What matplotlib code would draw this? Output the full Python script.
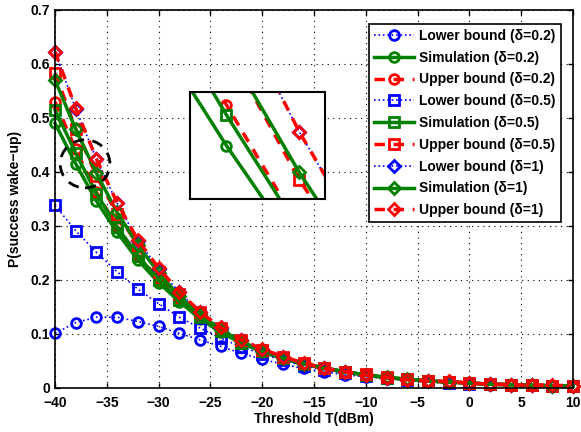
import numpy as np
import matplotlib
matplotlib.use("Agg")
from matplotlib import pyplot as plt
from matplotlib.patches import Ellipse

plt.rcParams['font.family'] = ['Liberation Sans', 'DejaVu Sans']
plt.rcParams['font.weight'] = 'bold'

T = np.arange(-40, 11, 2)

lower_02 = [.101, .121, .131, .131, .123, .114, .101, .089, .077, .064, .053, .044, .036,
            .030, .024, .021, .017, .014, .011, .009, .008, .006, .005, .005, .004, .003]
sim_02 = [.490, .415, .346, .288, .237, .195, .160, .128, .103, .083, .067, .054, .044,
          .036, .029, .024, .019, .016, .013, .011, .009, .007, .006, .005, .004, .004]
upper_02 = [.530, .4416, .362, .298, .245, .202, .166, .134, .108, .087, .070, .056, .046,
            .037, .030, .025, .020, .016, .013, .011, .009, .007, .006, .005, .004, .004]
lower_05 = [.338, .291, .251, .215, .183, .156, .131, .111, .092, .076, .063, .051, .041,
            .034, .028, .023, .019, .015, .012, .010, .008, .007, .006, .005, .004, .004]
sim_05 = [.515, .435, .360, .298, .245, .200, .163, .131, .105, .084, .068, .055, .045,
          .036, .030, .024, .019, .016, .013, .011, .009, .007, .006, .005, .004, .004]
upper_05 = [.583, .480, .3926, .322, .265, .215, .174, .140, .111, .088, .071, .057, .046,
            .037, .030, .025, .020, .016, .013, .011, .009, .007, .006, .005, .004, .004]
lower_1 = [.622, .517, .424, .342, .273, .221, .177, .140, .111, .088, .071, .057, .045,
           .036, .029, .024, .019, .015, .013, .011, .009, .007, .006, .005, .004, .004]
sim_1 = [.570, .479, .3975, .325, .265, .213, .170, .136, .108, .086, .069, .056, .045,
         .037, .030, .024, .020, .016, .013, .011, .009, .007, .006, .005, .004, .004]
upper_1 = [.623, .518, .424, .343, .274, .222, .178, .141, .112, .089, .072, .058, .046,
           .036, .030, .024, .019, .015, .013, .012, .009, .007, .006, .005, .005, .004]

labels = ['Lower bound (δ=0.2)', 'Simulation (δ=0.2)', 'Upper bound (δ=0.2)',
          'Lower bound (δ=0.5)', 'Simulation (δ=0.5)', 'Upper bound (δ=0.5)',
          'Lower bound (δ=1)', 'Simulation (δ=1)', 'Upper bound (δ=1)']
series = [lower_02, sim_02, upper_02, lower_05, sim_05, upper_05, lower_1, sim_1, upper_1]
markers = ['o', 'o', 'o', 's', 's', 's', 'D', 'D', 'D']

green = (0, 0.5, 0)
styles = [dict(color='b', ls=':', lw=1.2),
          dict(color=green, ls='-', lw=2.5),
          dict(color='r', ls=(0, (3, 2.5)), lw=2.5)]


def draw(ax, ms, clip=True):
    hs = []
    for i, y in enumerate(series):
        st = styles[i % 3]
        m = markers[i]
        h, = ax.plot(T, y, marker=m, markersize=ms if m != 'D' else ms - 1,
                     mfc='none', mew=2, clip_on=clip, **st)
        hs.append(h)
    return hs


fig = plt.figure(figsize=(5.81, 4.32), dpi=100)
ax = fig.add_axes([0.0947, 0.102, 0.8915, 0.875])
hs = draw(ax, 7, clip=False)
ax.set_xlim(-40, 10)
ax.set_ylim(0, 0.7)
ax.set_xticks(np.arange(-40, 11, 5))
ax.set_yticks(np.arange(0, 0.71, 0.1))
ax.set_yticklabels(['0', '0.1', '0.2', '0.3', '0.4', '0.5', '0.6', '0.7'])
ax.grid(True, ls=(0, (1, 4)), color='k', lw=0.8)
ax.tick_params(direction='in', top=True, right=True, labelsize=10, width=1)
ax.tick_params(axis='x', pad=6)
for s in ax.spines.values():
    s.set_linewidth(1.2)
ax.set_xlabel('Threshold T(dBm)', fontsize=10, fontweight='bold', labelpad=1)
ax.set_ylabel('P(success wake\u2212up)', fontsize=10, fontweight='bold', labelpad=6)

ax.add_patch(Ellipse((-37.1, 0.415), 4.8, 0.089, fill=False, ls=(0, (4, 3)),
                     lw=2, color='k', zorder=5))

leg = ax.legend(hs, labels, loc='upper right', fontsize=10, handlelength=2.9,
                borderpad=0.35, labelspacing=0.56, handletextpad=0.4,
                fancybox=False, framealpha=1, edgecolor='k',
                bbox_to_anchor=(0.99, 0.981))
leg.get_frame().set_linewidth(1.2)
leg.set_zorder(10)

axin = fig.add_axes([0.327, 0.539, 0.232, 0.248])
draw(axin, 7)
axin.set_xlim(-39, -35.3)
axin.set_ylim(0.38, 0.45)
axin.set_xticks([])
axin.set_yticks([])
for s in axin.spines.values():
    s.set_linewidth(1.5)

fig.savefig('out.png', dpi=100)
